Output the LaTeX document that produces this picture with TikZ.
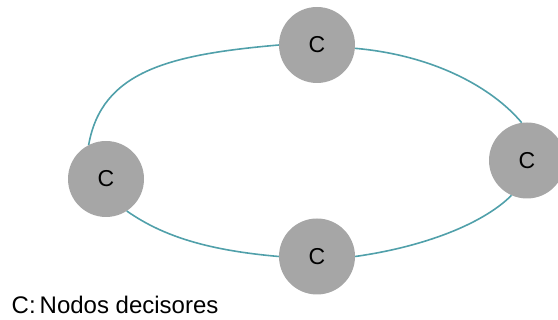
\documentclass[tikz,border=0pt]{standalone}
\usepackage{fontspec}
\setmainfont{Liberation Sans}
\usetikzlibrary{positioning}
\definecolor{nodegray}{RGB}{166,166,166}
\definecolor{ringteal}{RGB}{80,160,170}

\begin{document}
\begin{tikzpicture}[x=1pt, y=1pt,
    decisor/.style={circle, fill=nodegray, minimum size=76pt, inner sep=0pt,
        font=\fontsize{23}{23}\selectfont},
    ring/.style={draw=ringteal, line width=1.6pt}]
    % marco del dibujo
    \useasboundingbox (0,0) rectangle (558,320);
    \clip (0,0) rectangle (558,320);

    % nodos decisores
    \node[decisor] (cTop) at (317,275) {C};
    \node[decisor] (cRight) at (527,159.5) {C};
    \node[decisor] (cBottom) at (317,63.5) {C};
    \node[decisor] (cLeft) at (106,141) {C};

    % anillo que une los nodos
    \draw[ring] (cTop.-5) .. controls +(-5:80) and +(130:45) .. (cRight.98);
    \draw[ring] (cRight.246) .. controls +(225:40) and +(8:70) .. (cBottom.east);
    \draw[ring] (cBottom.west) .. controls +(175:70) and +(-35:45) .. (cLeft.-57);
    \draw[ring] (cLeft.117) .. controls +(80:75) and +(185:110) .. (cTop.west);

    % leyenda
    \node[anchor=base west, inner sep=0pt, font=\fontsize{24}{24}\selectfont]
        (legend) at (11.5,6.7) {C:\,Nodos decisores};
\end{tikzpicture}
\end{document}
